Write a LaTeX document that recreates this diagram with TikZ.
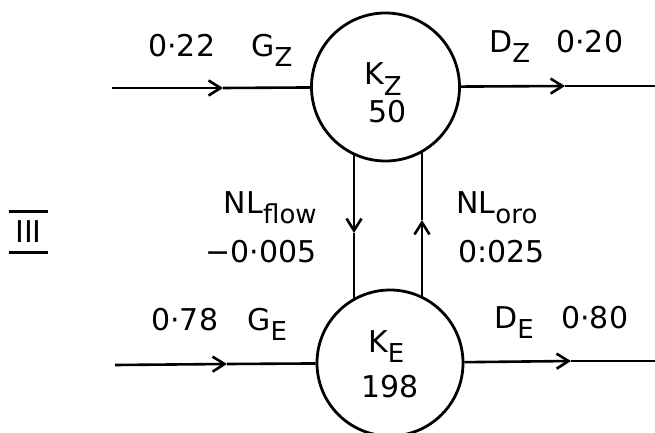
\documentclass[tikz,border=0pt]{standalone}
\usepackage{fontspec}
\setmainfont{DejaVu Sans}
\usepackage{tikz}
\usetikzlibrary{arrows.meta}
\newcommand{\lowsub}[1]{\raisebox{-10pt}{\fontsize{26}{30}\selectfont #1}}

\begin{document}
\begin{tikzpicture}[x=1pt,y=-1pt,>={Straight Barb[length=12pt,width=15pt]},
  line width=2.6pt,font=\fontsize{30}{36}\selectfont,
  lab/.style={inner sep=0pt},
  pool/.style={circle,draw,inner sep=0pt,line width=2.8pt}]
  \useasboundingbox (0,0) rectangle (655,433);
  % pools
  \node[pool,minimum size=148pt] (KZ) at (385.5,87) {};
  \node[pool,minimum size=146pt] (KE) at (390,363) {};
  \node[lab,anchor=base west] (kzlab) at (363,85) {K\lowsub{Z}};
  \node[lab,anchor=base] (kzval) at (387.5,122) {50};
  \node[lab,anchor=base west] (kelab) at (367,352) {K\lowsub{E}};
  \node[lab,anchor=base] (keval) at (390,397) {198};
  % upper flows
  \coordinate (gzin) at (112,88);
  \coordinate (gztip) at (223,88);
  \coordinate (dztip) at (565,86);
  \coordinate (dzout) at (655,86);
  \draw[->] (gzin) -- (gztip);
  \draw (gztip) -- (KZ);
  \draw[->] (KZ) -- (dztip);
  \draw (dztip) -- (dzout);
  \node[lab,anchor=base west] (gzval) at (147,57) {0·22};
  \node[lab,anchor=base west] (gzlab) at (250,57) {G\lowsub{Z}};
  \node[lab,anchor=base west] (dzlab) at (488,53) {D\lowsub{Z}};
  \node[lab,anchor=base west] (dzval) at (555,53) {0·20};
  % lower flows
  \coordinate (gein) at (115,365);
  \coordinate (getip) at (227,364);
  \coordinate (detip) at (571,361);
  \coordinate (deout) at (655,361);
  \draw[->] (gein) -- (getip);
  \draw (getip) -- (KE);
  \draw[->] (KE) -- (detip);
  \draw (detip) -- (deout);
  \node[lab,anchor=base west] (geval) at (150,330) {0·78};
  \node[lab,anchor=base west] (gelab) at (246,330) {G\lowsub{E}};
  \node[lab,anchor=base west] (delab) at (493,328) {D\lowsub{E}};
  \node[lab,anchor=base west] (deval) at (560,328) {0·80};
  % exchange between pools
  \coordinate (flowtip) at (354,233);
  \coordinate (orotip) at (422,220);
  \draw[->] (flowtip |- KZ.-115) -- (flowtip);
  \draw (flowtip) -- (flowtip |- KE.120);
  \draw[->] (orotip |- KE.64) -- (orotip);
  \draw (orotip) -- (orotip |- KZ.-60);
  \node[lab,anchor=base east] (flowlab) at (318,213) {NL\lowsub{flow}};
  \node[lab,anchor=base east] (flowval) at (318,262) {−0·005};
  \node[lab,anchor=base west] (orolab) at (455,213) {NL\lowsub{oro}};
  \node[lab,anchor=base west] (oroval) at (457,262) {0:025};
  % box label
  \node[lab,inner xsep=5pt,inner ysep=8pt] (rom) at (28.5,232) {III};
  \draw[line width=3pt] (rom.north west) -- (rom.north east)
    (rom.south west) -- (rom.south east);
\end{tikzpicture}
\end{document}
